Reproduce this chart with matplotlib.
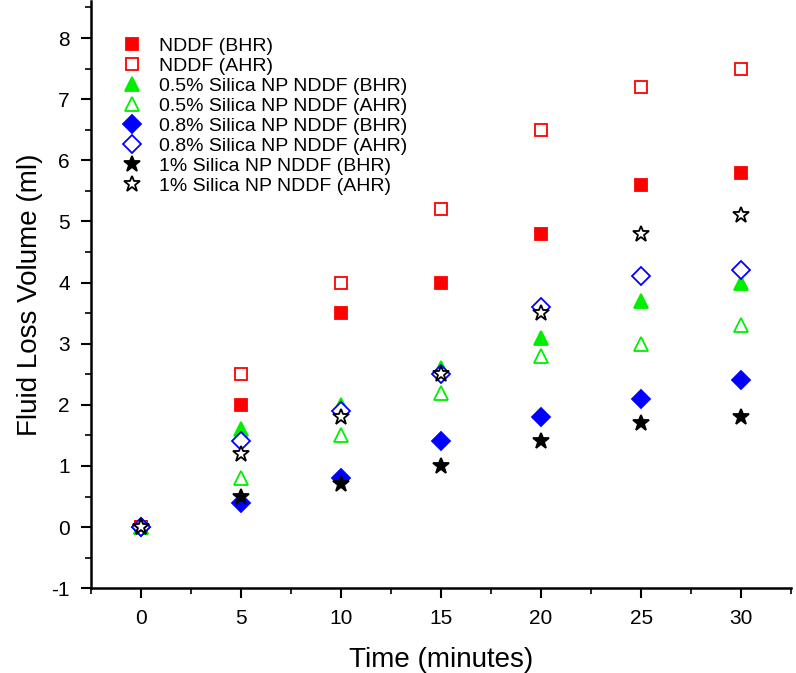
import numpy as np
import matplotlib.pyplot as plt
from matplotlib.ticker import MultipleLocator

plt.rcParams['font.family'] = ['Liberation Sans', 'DejaVu Sans']
plt.rcParams['axes.unicode_minus'] = False

time = [0, 5, 10, 15, 20, 25, 30]

nddf_bhr = [0, 2.0, 3.5, 4.0, 4.8, 5.6, 5.8]
nddf_ahr = [0, 2.5, 4.0, 5.2, 6.5, 7.2, 7.5]
si05_bhr = [0, 1.6, 2.0, 2.6, 3.1, 3.7, 4.0]
si05_ahr = [0, 0.8, 1.5, 2.2, 2.8, 3.0, 3.3]
si08_bhr = [0, 0.4, 0.8, 1.4, 1.8, 2.1, 2.4]
si08_ahr = [0, 1.4, 1.9, 2.5, 3.6, 4.1, 4.2]
si1_bhr = [0, 0.5, 0.7, 1.0, 1.4, 1.7, 1.8]
si1_ahr = [0, 1.2, 1.8, 2.5, 3.5, 4.8, 5.1]

labels = ['NDDF (BHR)', 'NDDF (AHR)',
          '0.5% Silica NP NDDF (BHR)', '0.5% Silica NP NDDF (AHR)',
          '0.8% Silica NP NDDF (BHR)', '0.8% Silica NP NDDF (AHR)',
          '1% Silica NP NDDF (BHR)', '1% Silica NP NDDF (AHR)']

fig = plt.figure(figsize=(7.96, 6.73), dpi=100)
ax = fig.add_axes([0.114, 0.126, 0.88, 0.872])

# (data, marker, color, filled, size)
series = [
    (nddf_bhr, 's', '#ff0000', True, 9),
    (nddf_ahr, 's', '#ff0000', False, 9),
    (si05_bhr, '^', '#00ee00', True, 10),
    (si05_ahr, '^', '#00ee00', False, 10),
    (si08_bhr, 'D', '#0000ff', True, 9),
    (si08_ahr, 'D', '#0000ff', False, 9),
    (si1_bhr, '*', 'black', True, 12),
    (si1_ahr, '*', 'black', False, 12),
]

for (vals, mk, col, filled, ms), lab in zip(series, labels):
    ax.plot(time, vals, linestyle='none', marker=mk, markersize=ms,
            markerfacecolor=col if filled else 'white',
            markeredgecolor=col, markeredgewidth=1.3, label=lab)

ax.set_xlim(-2.5, 32.5)
ax.set_ylim(-1, 8.6)
ax.xaxis.set_major_locator(MultipleLocator(5))
ax.xaxis.set_minor_locator(MultipleLocator(2.5))
ax.yaxis.set_major_locator(MultipleLocator(1))
ax.yaxis.set_minor_locator(MultipleLocator(0.5))
ax.spines['top'].set_visible(False)
ax.spines['right'].set_visible(False)
ax.spines['left'].set_linewidth(1.8)
ax.spines['bottom'].set_linewidth(1.8)
ax.tick_params(which='major', direction='out', length=7, width=1.5,
               labelsize=15, pad=8)
ax.tick_params(which='minor', direction='out', length=4, width=1.2)
ax.set_xlabel('Time (minutes)', fontsize=20, labelpad=14)
ax.set_ylabel('Fluid Loss Volume (ml)', fontsize=20, labelpad=6)

ax.legend(loc='upper left', frameon=False, fontsize=14, handletextpad=0.4,
          labelspacing=0.12, borderaxespad=0.0, bbox_to_anchor=(0.02, 0.952))

fig.savefig('out.png', dpi=100)
